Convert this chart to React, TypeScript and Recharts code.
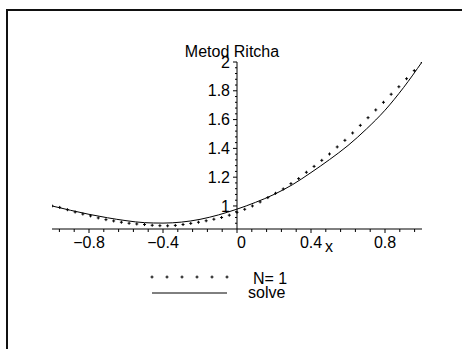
import React from 'react';
import {
  ComposedChart,
  Line,
  XAxis,
  YAxis,
  ReferenceLine,
  Legend,
} from 'recharts';

// Ritz approximation N=1, sampled at x = -1 + k/24
const ritzX = Array.from({ length: 49 }, (_, k) => -1 + k / 24);
const ritzY = [
  1.0, 0.99, 0.974, 0.958, 0.944, 0.931, 0.917, 0.905, 0.896, 0.887,
  0.88, 0.875, 0.871, 0.866, 0.863, 0.862, 0.865, 0.871, 0.879, 0.887,
  0.897, 0.908, 0.92, 0.936, 0.956, 0.977, 1.0, 1.028, 1.058, 1.088,
  1.118, 1.155, 1.19, 1.234, 1.275, 1.317, 1.361, 1.41, 1.456, 1.507,
  1.56, 1.613, 1.667, 1.72, 1.776, 1.828, 1.884, 1.94, 2.0,
];

// exact solution
const solveX = [
  -1, -0.9, -0.8, -0.7, -0.6, -0.5, -0.4, -0.3, -0.2, -0.1, 0,
  0.1, 0.2, 0.3, 0.4, 0.5, 0.6, 0.7, 0.8, 0.9, 1,
];
const solveY = [
  1.0, 0.97, 0.942, 0.918, 0.898, 0.884, 0.881, 0.888, 0.907, 0.938, 0.978,
  1.025, 1.08, 1.148, 1.232, 1.322, 1.42, 1.535, 1.665, 1.822, 2.0,
];

const xMajor = [-0.8, -0.4, 0, 0.4, 0.8];
const xMajorLabels = ['\u22120.8', '\u22120.4', '0', '0.4', '0.8'];
const xMinor = [
  -0.96, -0.88, -0.72, -0.64, -0.56, -0.48, -0.32, -0.24, -0.16, -0.08,
  0.08, 0.16, 0.24, 0.32, 0.48, 0.56, 0.64, 0.72, 0.88, 0.96,
];
const yMajor = [1, 1.2, 1.4, 1.6, 1.8, 2];
const yMajorLabels = ['1', '1.2', '1.4', '1.6', '1.8', '2'];
const yMinor = [
  0.88, 0.92, 0.96, 1.04, 1.08, 1.12, 1.16, 1.24, 1.28, 1.32, 1.36,
  1.44, 1.48, 1.52, 1.56, 1.64, 1.68, 1.72, 1.76, 1.84, 1.88, 1.92, 1.96,
];

const ritzData = ritzX.map((x, i) => ({ x, y: ritzY[i] }));
const solveData = solveX.map((x, i) => ({ x, y: solveY[i] }));

const FONT = '"Liberation Sans", Arial, sans-serif';
const PX = 1 / 185; // one pixel in x units

function XTick(props: any) {
  const { x, y, payload } = props;
  const v = payload.value as number;
  const idx = xMajor.findIndex((m) => Math.abs(m - v) < 1e-9);
  const major = idx >= 0;
  return (
    <g>
      <line x1={x} x2={x} y1={y} y2={y + (major ? 4 : 3)} stroke="#000" />
      {major && (
        <text
          x={x}
          y={y + 19}
          textAnchor={v === 0 ? 'start' : 'middle'}
          fontFamily={FONT}
          fontSize={16}
          fill="#000"
        >
          {xMajorLabels[idx]}
        </text>
      )}
    </g>
  );
}

function Cross(props: any) {
  const { cx, cy } = props;
  if (cx == null || cy == null) return null;
  return (
    <g>
      <line x1={cx - 1.5} x2={cx + 1.5} y1={cy} y2={cy} stroke="#000" />
      <line x1={cx} x2={cx} y1={cy - 1.5} y2={cy + 1.5} stroke="#000" />
    </g>
  );
}

function LegendBox() {
  return (
    <svg width={160} height={36} style={{ display: 'block' }}>
      {[0, 1, 2, 3, 4, 5].map((i) => (
        <Cross key={i} cx={2 + i * 15} cy={9} />
      ))}
      <line x1={2} x2={77} y1={25} y2={25} stroke="#000" />
      <text x={103} y={16} fontFamily={FONT} fontSize={16} fill="#000">
        N= 1
      </text>
      <text x={98} y={30} fontFamily={FONT} fontSize={16} fill="#000">
        solve
      </text>
    </svg>
  );
}

export default function App() {
  return (
    <div
      style={{
        position: 'fixed',
        left: 0,
        top: 0,
        width: 462,
        height: 349,
        background: '#fff',
        overflow: 'hidden',
      }}
    >
      <div
        style={{
          position: 'absolute',
          left: 6,
          top: 9,
          width: 500,
          height: 400,
          borderLeft: '2px solid #111',
          borderTop: '2px solid #111',
        }}
      />
      <div style={{ position: 'absolute', left: 0, top: 0 }}>
        <ComposedChart
          width={462}
          height={349}
          margin={{ top: 62, right: 40, left: 52, bottom: 90 }}
        >
          <XAxis
            dataKey="x"
            type="number"
            domain={[-1, 1]}
            ticks={[...xMinor, ...xMajor]}
            interval={0}
            tickSize={0}
            tickMargin={0}
            tickLine={false}
            tick={<XTick />}
            axisLine={{ stroke: '#000' }}
            height={30}
            allowDataOverflow
            label={{
              value: 'x',
              position: 'insideBottom',
              offset: 7,
              dx: 92,
              fill: '#000',
              fontSize: 16,
              fontFamily: FONT,
            }}
          />
          <YAxis hide type="number" domain={[0.84, 2]} allowDataOverflow />
          <ReferenceLine
            x={0}
            stroke="#000"
            label={{
              value: 'Metod Ritcha',
              position: 'top',
              offset: 5,
              dx: -5,
              fill: '#000',
              fontSize: 16,
              fontFamily: FONT,
            }}
          />
          {yMinor.map((v) => (
            <ReferenceLine
              key={'m' + v}
              segment={[
                { x: -2 * PX, y: v },
                { x: 0, y: v },
              ]}
              stroke="#000"
            />
          ))}
          {yMajor.map((v, i) => (
            <ReferenceLine
              key={'M' + v}
              segment={[
                { x: -4 * PX, y: v },
                { x: 0, y: v },
              ]}
              stroke="#000"
              label={{
                value: yMajorLabels[i],
                position: 'left',
                offset: 3,
                fill: '#000',
                fontSize: 16,
                fontFamily: FONT,
              }}
            />
          ))}
          <Line
            data={solveData}
            dataKey="y"
            type="monotone"
            stroke="#000"
            strokeWidth={1}
            dot={false}
            isAnimationActive={false}
          />
          <Line
            data={ritzData}
            dataKey="y"
            stroke="none"
            dot={<Cross />}
            isAnimationActive={false}
          />
          <Legend
            layout="horizontal"
            verticalAlign="middle"
            align="center"
            wrapperStyle={{ top: 268, left: 150, width: 160 }}
            content={() => <LegendBox />}
          />
        </ComposedChart>
      </div>
    </div>
  );
}
